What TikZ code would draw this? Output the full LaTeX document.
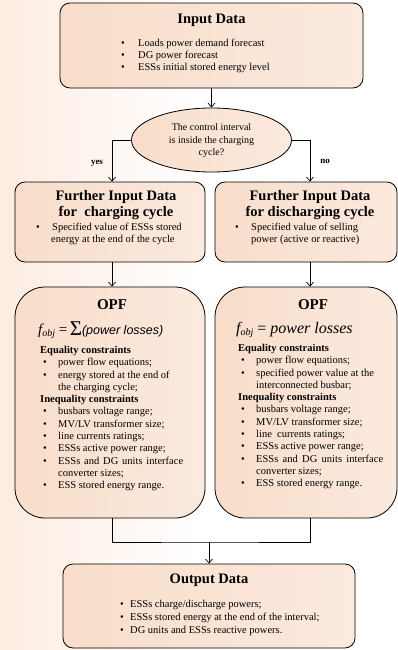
\documentclass[tikz,border=0pt]{standalone}
\usepackage{fontspec}
\setmainfont{Liberation Serif}
\newfontfamily\sansit{Liberation Sans}
\usetikzlibrary{shapes.geometric,arrows.meta}
\definecolor{peachA}{RGB}{248,221,202}
\definecolor{peachB}{RGB}{255,250,246}
\definecolor{peachC}{RGB}{251,234,222}
\definecolor{bgL}{RGB}{252,236,225}
\newcommand{\bl}[1][17pt]{\makebox[#1][l]{\textbullet}}
\tikzset{
  box/.style={draw=black, line width=0.8pt, rounded corners=10pt, left color=peachA, middle color=peachB, right color=peachC, inner sep=0pt},
  opfbox/.style={box, rounded corners=30pt},
  decbox/.style={ellipse, draw=black, line width=0.8pt, left color=peachA, middle color=peachB, right color=peachC, inner sep=0pt},
  ttl/.style={font=\fontsize{14.5}{16}\selectfont\bfseries, inner sep=0pt, align=center},
  body/.style={font=\fontsize{10.5}{12.3}\selectfont, inner sep=0pt, align=left, anchor=north west},
  lbl/.style={font=\fontsize{9}{10}\selectfont\bfseries, inner sep=0pt},
  arr/.style={line width=0.7pt, -{Straight Barb[length=4pt,width=7pt]}},
  ln/.style={line width=0.7pt}
}
\begin{document}
\begin{tikzpicture}[x=1pt,y=-1pt]
\fill[white] (0,0) rectangle (398,650);
\fill[left color=bgL, right color=white] (0,0) rectangle (200,650);
\useasboundingbox (0,0) rectangle (398,650);

% Input data
\node[box, minimum width=303pt, minimum height=85pt] (input) at (211.5,45.5) {};
\node[ttl] (inputt) at (211.5,20) {Input Data};
\node[body, font=\fontsize{10.5}{11.8}\selectfont] (inputl) at (121,39) {\bl Loads power demand forecast\\ \bl DG power forecast\\ \bl ESSs initial stored energy level};

% decision
\node[decbox, minimum width=160pt, minimum height=64pt] (dec) at (211.5,140) {};
\node[inner sep=0pt, align=center, font=\fontsize{10}{12.5}\selectfont] (dect) at (211.5,141) {The control interval\\ is inside the charging\\ cycle?};

% further input boxes
\node[box, minimum width=190pt, minimum height=80pt] (fc) at (110,222) {};
\node[ttl] (fct) at (116,205.5) {Further Input Data\\ for\ \ charging cycle};
\node[body] (fcl) at (36,223) {\bl[16pt]Specified value of ESSs stored\\ \hspace*{15pt}energy at the end of the cycle};

\node[box, minimum width=182pt, minimum height=80pt] (fd) at (306,222) {};
\node[ttl] (fdt) at (310,205.5) {Further Input Data\\ for discharging cycle};
\node[body] (fdl) at (235,223) {\bl[16pt]Specified value of selling\\ \hspace*{16pt}power (active or reactive)};

\node[lbl] (yes) at (97,163) {yes};
\node[lbl] (no) at (325,161) {no};

% OPF boxes
\node[opfbox, minimum width=190pt, minimum height=231pt] (opfl) at (110,402.5) {};
\node[ttl, font=\fontsize{15}{16}\selectfont\bfseries] (opflt) at (112,305) {OPF};
\node[inner sep=0pt, anchor=west] (opflf) at (38,330) {\fontsize{15}{16}\selectfont\itshape f\raisebox{-2.5pt}{\fontsize{10}{10}\selectfont obj}\upshape\ =\,\raisebox{-1pt}{\fontsize{21}{21}\selectfont Σ}{\sansit\itshape\fontsize{12.5}{14}\selectfont(power losses)}};
\node[body] (opfll) at (40,346) {\textbf{Equality constraints}\\
\hspace*{3pt}\bl[15pt]power flow equations;\\
\hspace*{3pt}\bl[15pt]energy stored at the end of\\
\hspace*{18pt}the charging cycle;\\
\textbf{Inequality constraints}\\
\hspace*{3pt}\bl[15pt]busbars voltage range;\\
\hspace*{3pt}\bl[15pt]MV/LV transformer size;\\
\hspace*{3pt}\bl[15pt]line currents ratings;\\
\hspace*{3pt}\bl[15pt]ESSs active power range;\\
\hspace*{3pt}\bl[15pt]\makebox[125pt][s]{ESSs and DG units interface}\\
\hspace*{18pt}converter sizes;\\
\hspace*{3pt}\bl[15pt]ESS stored energy range.};

\node[opfbox, minimum width=182pt, minimum height=231pt] (opfr) at (306,402.5) {};
\node[ttl, font=\fontsize{15}{16}\selectfont\bfseries] (opfrt) at (313,305) {OPF};
\node[inner sep=0pt, anchor=west] (opfrf) at (236,330) {\fontsize{16}{17}\selectfont\itshape f\raisebox{-2.5pt}{\fontsize{10}{10}\selectfont obj}\upshape\ = \itshape power losses};
\node[body] (opfrl) at (238,344) {\textbf{Equality constraints}\\
\hspace*{3pt}\bl[15pt]power flow equations;\\
\hspace*{3pt}\bl[15pt]specified power value at the\\
\hspace*{18pt}interconnected busbar;\\
\textbf{Inequality constraints}\\
\hspace*{3pt}\bl[15pt]busbars voltage range;\\
\hspace*{3pt}\bl[15pt]MV/LV transformer size;\\
\hspace*{3pt}\bl[15pt]line\ \ currents ratings;\\
\hspace*{3pt}\bl[15pt]ESSs active power range;\\
\hspace*{3pt}\bl[15pt]\makebox[127pt][s]{ESSs and DG units interface}\\
\hspace*{18pt}converter sizes;\\
\hspace*{3pt}\bl[15pt]ESS stored energy range.};

% output
\node[box, minimum width=292pt, minimum height=84pt] (output) at (209,606) {};
\node[ttl] (outputt) at (209,580) {Output Data};
\node[body, font=\fontsize{10.5}{12.8}\selectfont] (outputl) at (120,600) {\bl[10pt]ESSs charge/discharge powers;\\ \bl[10pt]ESSs stored energy at the end of the interval;\\ \bl[10pt]DG units and ESSs reactive powers.};

% connectors
\draw[arr] (input.south) -- (dec.north);
\draw[arr] (dec.west) -| ([xshift=2pt]fc.north);
\draw[arr] (dec.east) -| ([xshift=4pt]fd.north);
\draw[arr] ([xshift=2pt]fc.south) -- ([xshift=2pt]opfl.north);
\draw[arr] ([xshift=4pt]fd.south) -- ([xshift=4pt]opfr.north);
\coordinate (m) at (209,542);
\draw[ln] ([xshift=2pt]opfl.south) |- (m) -| ([xshift=4pt]opfr.south);
\draw[arr] (m) -- (output.north);
\end{tikzpicture}
\end{document}
